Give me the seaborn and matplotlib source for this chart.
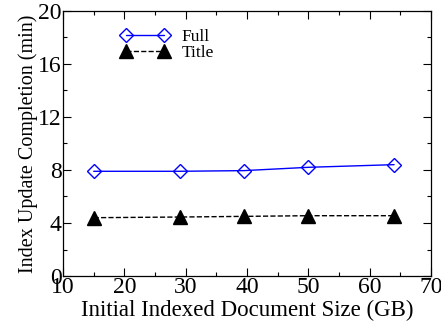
import pandas as pd
import matplotlib
matplotlib.use("Agg")
import matplotlib.pyplot as plt
import seaborn as sns
from matplotlib.ticker import MultipleLocator

# ---- data ----
doc_size_gb = [15, 29, 39.5, 50, 64]
full_min = [7.9, 7.9, 7.95, 8.2, 8.4]
title_min = [4.4, 4.45, 4.5, 4.55, 4.55]

df = pd.DataFrame({
    "size": doc_size_gb * 2,
    "minutes": full_min + title_min,
    "index": ["Full"] * len(full_min) + ["Title"] * len(title_min),
})

sns.set_style("ticks")
plt.rcParams["font.family"] = ["Liberation Serif", "DejaVu Serif"]
plt.rcParams["text.color"] = "black"
plt.rcParams["axes.labelcolor"] = "black"
plt.rcParams["xtick.color"] = "black"
plt.rcParams["ytick.color"] = "black"

fig, ax = plt.subplots(figsize=(4.41, 3.29), dpi=100)

styles = {
    "Full": dict(color="blue", ls="-", marker="D", mfc="none", mec="blue", ms=7.5, lw=1.0),
    "Title": dict(color="black", ls="--", marker="^", mfc="black", mec="black", ms=10.5, lw=1.0),
}
for name, grp in df.groupby("index"):
    st = styles[name]
    sns.lineplot(data=grp, x="size", y="minutes", ax=ax, label=name,
                 color=st["color"], linestyle=st["ls"], marker=st["marker"],
                 markerfacecolor=st["mfc"], markeredgecolor=st["mec"],
                 markersize=st["ms"], linewidth=st["lw"], markeredgewidth=1.0)

ax.set_xlim(10, 70)
ax.set_ylim(0, 20)
ax.xaxis.set_major_locator(MultipleLocator(10))
ax.xaxis.set_minor_locator(MultipleLocator(5))
ax.yaxis.set_major_locator(MultipleLocator(4))
ax.yaxis.set_minor_locator(MultipleLocator(2))
ax.tick_params(which="both", direction="in", top=True, right=True, labelsize=17, pad=1)
ax.tick_params(which="major", length=6, width=0.8)
ax.tick_params(which="minor", length=3, width=0.8)
for s in ax.spines.values():
    s.set_linewidth(0.9)
    s.set_color("black")

ax.set_xlabel("Initial Indexed Document Size (GB)", fontsize=16.5, labelpad=1)
ax.set_ylabel("Index Update Completion (min)", fontsize=14.5, labelpad=0)

ax.legend(loc="upper left", frameon=False, numpoints=2, handlelength=2.8,
          fontsize=12.5, labelspacing=0.0, borderaxespad=0.5,
          bbox_to_anchor=(0.115, 0.99), handletextpad=0.7)

fig.subplots_adjust(left=0.143, right=0.977, top=0.967, bottom=0.161)
fig.savefig("out.png", dpi=100)
